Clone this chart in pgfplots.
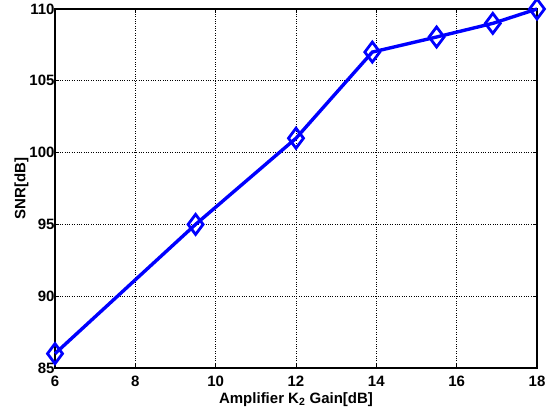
\documentclass[border=0pt]{standalone}
\usepackage{fontspec}
\setmainfont{Liberation Sans}
\usepackage{pgfplots}
\pgfplotsset{compat=1.18}
\begin{document}
\begin{tikzpicture}
\path[use as bounding box] (-55bp,-48bp) rectangle (499bp,368bp);
\begin{axis}[
  at={(0,0)}, anchor=south west,
  scale only axis, width=482bp, height=359bp,
  xmin=6, xmax=18, ymin=85, ymax=110,
  xtick={6,8,...,18}, ytick={85,90,...,110},
  grid=major,
  major grid style={black, dotted, line width=0.6pt},
  axis line style={black, line width=2pt},
  tick style={black, line width=0.8pt},
  tick align=inside,
  major tick length=4bp,
  /pgf/number format/assume math mode=true,
  tick label style={font=\fontsize{15bp}{17bp}\selectfont\bfseries},
  label style={font=\fontsize{15bp}{17bp}\selectfont\bfseries},
  yticklabel style={xshift=3bp},
  xticklabel style={yshift=-4.5bp},
  xlabel={Amplifier K\textsubscript{2} Gain[dB]},
  ylabel={SNR[dB]},
  xlabel style={yshift=1bp},
  ylabel style={yshift=-6bp},
  clip=false,
]
\addplot[blue, line width=3.4pt, mark=diamond, mark size=10bp,
  mark options={solid, line width=2.8pt, fill=none}]
coordinates {(6,86) (9.5,95) (12,101) (13.9,107) (15.5,108.05) (16.9,109) (18,110)};
\end{axis}
\end{tikzpicture}
\end{document}
